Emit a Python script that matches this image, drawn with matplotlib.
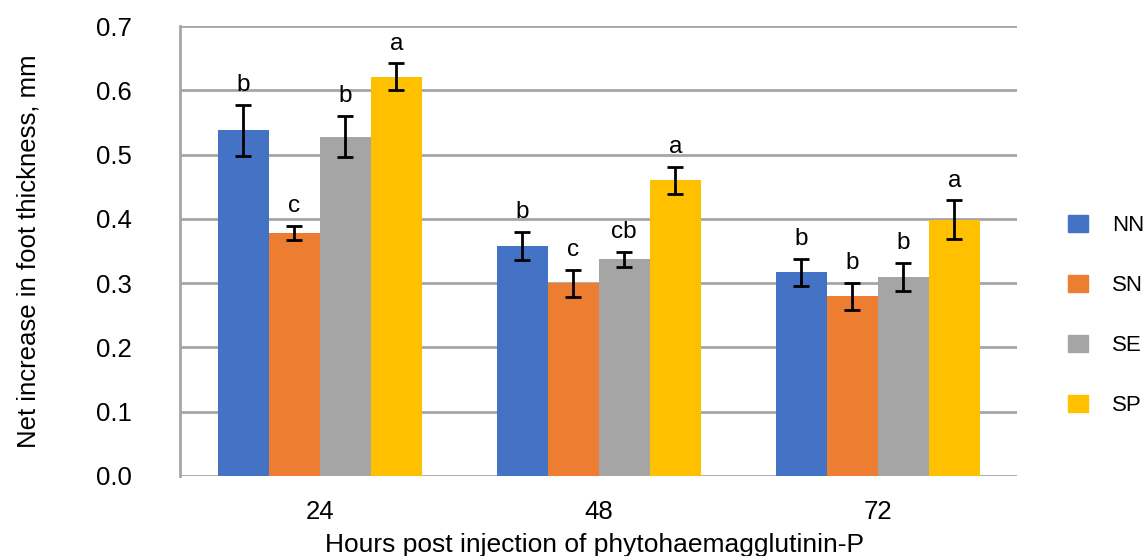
import numpy as np
import matplotlib
matplotlib.use("Agg")
import matplotlib.pyplot as plt
from matplotlib.patches import Patch

hours = ["24", "48", "72"]
groups = ["NN", "SN", "SE", "SP"]
colors = ["#4472C4", "#ED7D31", "#A5A5A5", "#FFC000"]

nn = [0.538, 0.358, 0.317]
sn = [0.378, 0.300, 0.280]
se = [0.528, 0.337, 0.310]
sp = [0.621, 0.460, 0.399]

nn_err = [0.040, 0.022, 0.021]
sn_err = [0.011, 0.021, 0.021]
se_err = [0.032, 0.012, 0.022]
sp_err = [0.021, 0.021, 0.030]

nn_lbl = ["b", "b", "b"]
sn_lbl = ["c", "c", "b"]
se_lbl = ["b", "cb", "b"]
sp_lbl = ["a", "a", "a"]

values = [nn, sn, se, sp]
errors = [nn_err, sn_err, se_err, sp_err]
letters = [nn_lbl, sn_lbl, se_lbl, sp_lbl]

plt.rcParams["font.family"] = ["Liberation Sans", "DejaVu Sans"]

fig = plt.figure(figsize=(11.48, 5.56), dpi=100)
ax = fig.add_axes([0.157, 0.144, 0.729, 0.809])

x = np.arange(len(hours))
width = 0.183
for i, (vals, errs, lbls) in enumerate(zip(values, errors, letters)):
    pos = x + (i - 1.5) * width
    ax.bar(pos, vals, width=width, color=colors[i], zorder=2)
    ax.errorbar(pos, vals, yerr=errs, fmt="none", ecolor="black",
                elinewidth=2, capsize=6, capthick=2, zorder=3)
    for p, v, e, t in zip(pos, vals, errs, lbls):
        ax.annotate(t, (p, v + e), xytext=(0, 6.3), textcoords="offset points",
                    ha="center", va="bottom", fontsize=17.5)

ax.set_xlim(-0.5, 2.5)
ax.set_ylim(0, 0.7)
yt = np.arange(0, 0.71, 0.1)
ax.set_yticks(yt)
ax.set_yticklabels([f"{t:.1f}" for t in yt])
ax.set_xticks(x)
ax.set_xticklabels(hours)
ax.tick_params(axis="both", length=0, labelsize=18.5)
ax.tick_params(axis="x", pad=17)
ax.tick_params(axis="y", pad=35)
ax.yaxis.grid(True, color="#A6A6A6", linewidth=2, zorder=0)
ax.set_axisbelow(True)
for s in ["top", "right", "bottom"]:
    ax.spines[s].set_visible(False)
ax.spines["left"].set_color("#A6A6A6")
ax.spines["left"].set_linewidth(2)

ax.set_ylabel("Net increase in foot thickness, mm", fontsize=18.5, labelpad=40)
ax.set_xlabel("Hours post injection of phytohaemagglutinin-P", fontsize=19)
ax.xaxis.set_label_coords(0.495, -0.127)

handles = [Patch(color=c, label=g) for c, g in zip(colors, groups)]
fig.legend(handles=handles, loc="center left", bbox_to_anchor=(0.930, 0.432),
           frameon=False, borderpad=0, borderaxespad=0,
           handlelength=0.9, handleheight=0.77, handletextpad=1.1,
           labelspacing=1.75, prop={"family": "Liberation Sans", "size": 16})

fig.savefig("out.png", dpi=100)
